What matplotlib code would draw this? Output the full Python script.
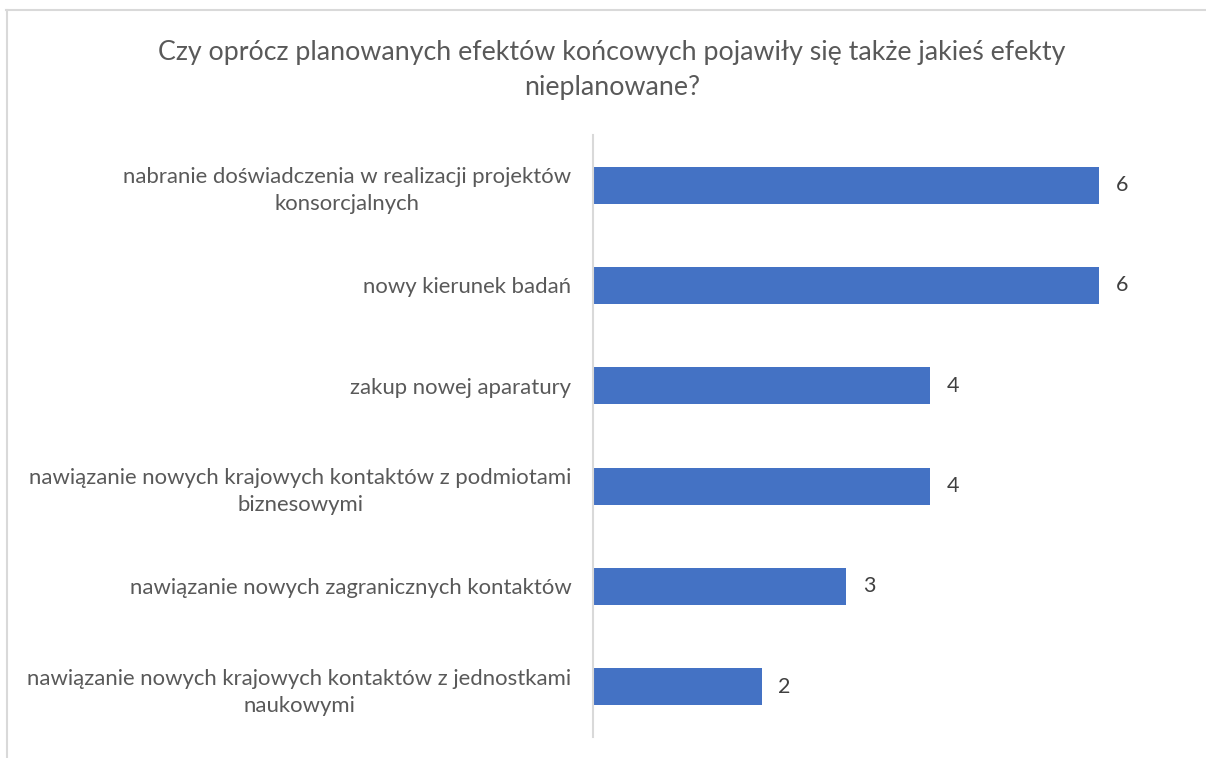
import numpy as np
import matplotlib.pyplot as plt
from matplotlib.lines import Line2D

plt.rcParams['font.family'] = ['Lato', 'DejaVu Sans']

# odpowiedzi (od góry do dołu)
categories = [
    "nabranie doświadczenia w realizacji projektów\nkonsorcjalnych",
    "nowy kierunek badań",
    "zakup nowej aparatury",
    "nawiązanie nowych krajowych kontaktów z podmiotami\nbiznesowymi",
    "nawiązanie nowych zagranicznych kontaktów",
    "nawiązanie nowych krajowych kontaktów z jednostkami\nnaukowymi",
]
values = [6, 6, 4, 4, 3, 2]

title = "Czy oprócz planowanych efektów końcowych pojawiły się także jakieś efekty\nnieplanowane?"

text_color = "#595959"
bar_color = "#4472C4"

fig = plt.figure(figsize=(12.06, 7.58), dpi=100)
ax = fig.add_axes([0.4917, 0.0277, 0.4893, 0.7943])

y = np.arange(len(categories))
ax.barh(y, values, height=0.37, color=bar_color)
ax.set_ylim(len(categories) - 0.5, -0.5)
ax.set_xlim(0, 7)

for yi, v in zip(y, values):
    ax.text(v + 0.2, yi, str(v), va="center", ha="left", fontsize=15.5, color="#404040")

ax.set_yticks(y)
ax.set_yticklabels(categories, fontsize=15.9, color=text_color, ha="right",
                   multialignment="center", linespacing=1.45)
ax.tick_params(axis="y", length=0, pad=15.5)
ax.set_xticks([])
for side in ["top", "right", "bottom"]:
    ax.spines[side].set_visible(False)
ax.spines["left"].set_color("#D9D9D9")
ax.spines["left"].set_linewidth(1.5)

fig.text(0.5075, 0.9077, title, ha="center", va="center", fontsize=19.3,
         color=text_color, linespacing=1.52)

# ramka obszaru wykresu
fig.add_artist(Line2D([0.005, 0.999], [0.987, 0.987], color="#D9D9D9", lw=1.5))
fig.add_artist(Line2D([0.006, 0.006], [0.0, 0.987], color="#D9D9D9", lw=1.5))

fig.savefig("out.png", dpi=100)
